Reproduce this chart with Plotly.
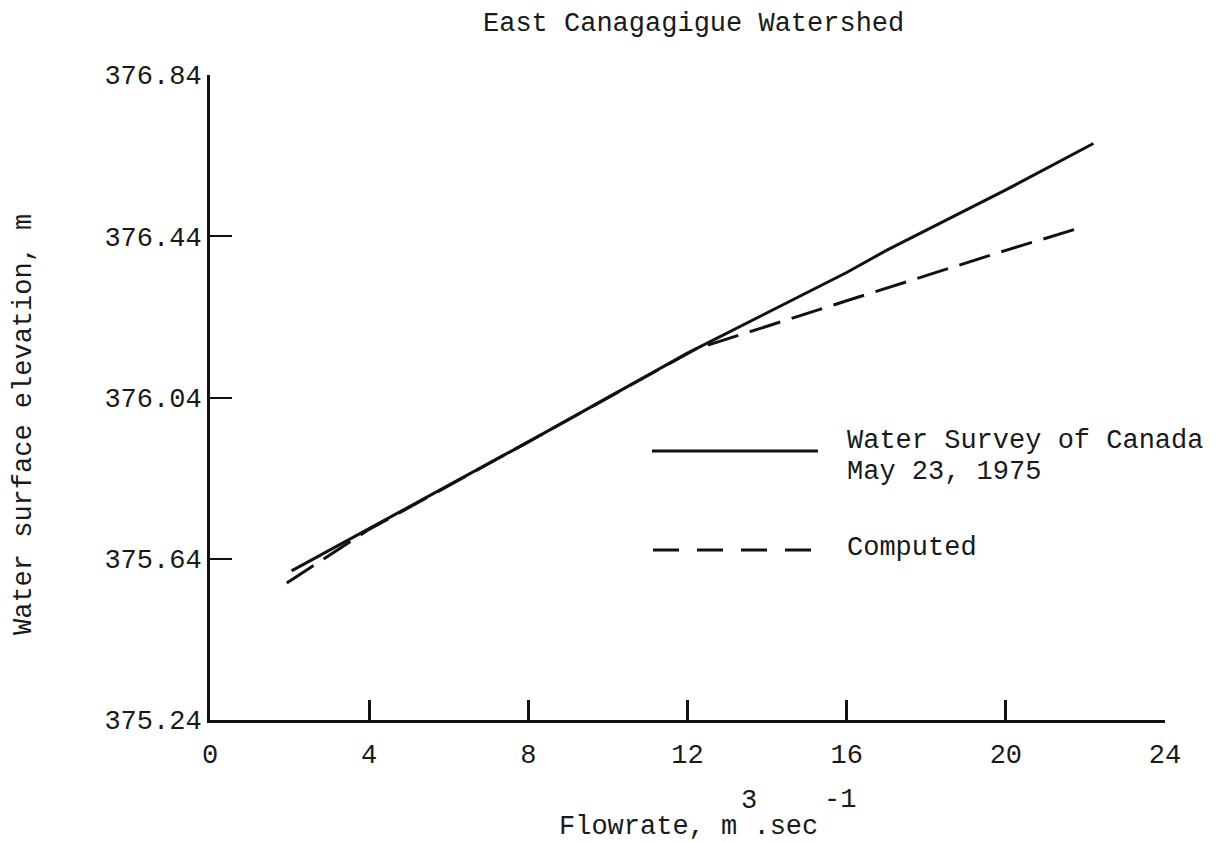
import plotly.graph_objects as go

# ---- data ----
survey_x = [2.05, 4.0, 8.0, 12.0, 16.0, 17.0, 20.0, 22.2]
survey_y = [375.61, 375.715, 375.93, 376.15, 376.35, 376.405, 376.555, 376.67]

computed_x = [1.93, 3.95, 8.0, 12.2, 16.0, 20.0, 22.0]
computed_y = [375.58, 375.71, 375.93, 376.16, 376.28, 376.405, 376.465]

x_ticks = [0, 4, 8, 12, 16, 20, 24]
y_ticks = [375.24, 375.64, 376.04, 376.44, 376.84]
y_tick_labels = ["375.24", "375.64", "376.04", "376.44", "376.84"]

FONT = "Liberation Mono"
INK = "#1a1a1a"
FS = 27

fig = go.Figure()
fig.add_trace(go.Scatter(x=computed_x, y=computed_y, mode="lines", name="Computed",
                         line=dict(color="#111", width=3, dash="32px,12px"), showlegend=False))
fig.add_trace(go.Scatter(x=survey_x, y=survey_y, mode="lines",
                         name="Water Survey of Canada May 23, 1975",
                         line=dict(color="#111", width=3), showlegend=False))

# page body has an 8px margin: the figure starts at (8, 8) on screen
OFF = 8
W, H = 1231 - OFF, 842 - OFF
L, T = 210 - OFF, 75 - OFF
R, B = 66, 122
pw, ph = W - L - R, H - T - B


def px(xs):  # screen x -> paper
    return (xs - OFF - L) / pw


def py(ys):  # screen y -> paper
    return (H - B - (ys - OFF)) / ph


fig.update_layout(
    width=W, height=H,
    margin=dict(l=L, r=R, t=T, b=B, pad=0),
    paper_bgcolor="white", plot_bgcolor="white",
    font=dict(family=FONT, size=FS, color=INK),
    showlegend=False,
    xaxis=dict(range=[0, 24], tickvals=x_ticks, ticktext=[str(v) for v in x_ticks],
               showgrid=False, zeroline=False, showline=True, linecolor="#111", linewidth=3,
               ticks="inside", ticklen=20, tickwidth=3, tickcolor="#111",
               ticklabelstandoff=8, tickfont=dict(family=FONT, size=FS, color=INK)),
    yaxis=dict(range=[375.24, 376.84], tickvals=y_ticks, ticktext=y_tick_labels,
               showgrid=False, zeroline=False, showline=True, linecolor="#111", linewidth=3,
               ticks="inside", ticklen=22, tickwidth=2, tickcolor="#111",
               ticklabelstandoff=0, tickfont=dict(family=FONT, size=FS, color=INK)),
)

# titles
fig.add_annotation(text="East Canagagigue Watershed", xref="paper", yref="paper",
                   x=px(693), y=py(24), showarrow=False, xanchor="center", yanchor="middle",
                   font=dict(family=FONT, size=FS, color=INK))
fig.add_annotation(text="Flowrate, m .sec", xref="paper", yref="paper",
                   x=px(688), y=py(827), showarrow=False, xanchor="center", yanchor="middle",
                   font=dict(family=FONT, size=FS, color=INK))
fig.add_annotation(text="3", xref="paper", yref="paper",
                   x=px(749), y=py(801), showarrow=False, xanchor="center", yanchor="middle",
                   font=dict(family=FONT, size=FS, color=INK))
fig.add_annotation(text="-1", xref="paper", yref="paper",
                   x=px(840), y=py(800), showarrow=False, xanchor="center", yanchor="middle",
                   font=dict(family=FONT, size=FS, color=INK))
fig.add_annotation(text="Water surface elevation, m", xref="paper", yref="paper",
                   x=px(24), y=py(425), showarrow=False, textangle=-90,
                   xanchor="center", yanchor="middle",
                   font=dict(family=FONT, size=FS, color=INK))

# hand-drawn style legend
fig.add_shape(type="line", xref="paper", yref="paper", x0=px(652), x1=px(818),
              y0=py(451), y1=py(451), line=dict(color="#111", width=3))
fig.add_shape(type="line", xref="paper", yref="paper", x0=px(653), x1=px(812),
              y0=py(550), y1=py(550), line=dict(color="#111", width=3, dash="26px,18px"))
fig.add_annotation(text="Water Survey of Canada", xref="paper", yref="paper",
                   x=px(845), y=py(441), showarrow=False, xanchor="left", yanchor="middle",
                   font=dict(family=FONT, size=FS, color=INK))
fig.add_annotation(text="May 23, 1975", xref="paper", yref="paper",
                   x=px(845), y=py(472), showarrow=False, xanchor="left", yanchor="middle",
                   font=dict(family=FONT, size=FS, color=INK))
fig.add_annotation(text="Computed", xref="paper", yref="paper",
                   x=px(845), y=py(548), showarrow=False, xanchor="left", yanchor="middle",
                   font=dict(family=FONT, size=FS, color=INK))

fig.write_html("out.html")
